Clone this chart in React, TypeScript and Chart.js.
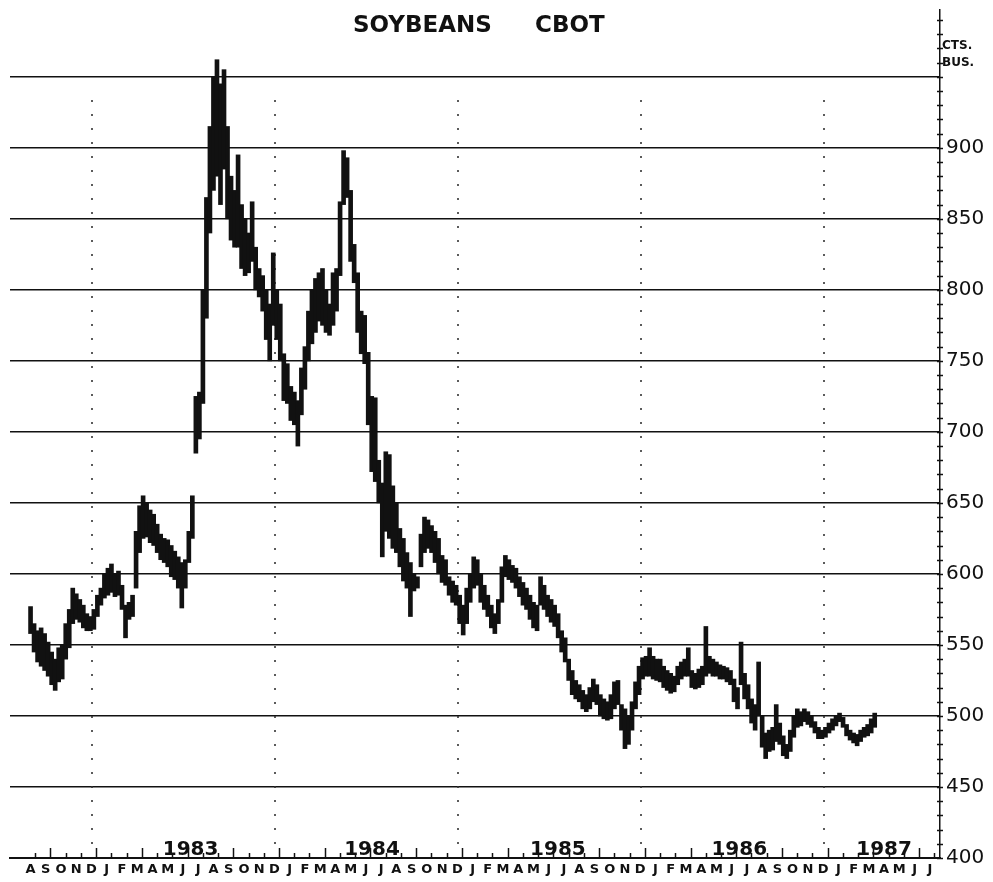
import React, { useEffect, useRef } from "react";
import { Chart, registerables } from "chart.js";

Chart.register(...registerables);

// Month letters, starting with August 1982
const MONTH_LETTERS = ["A", "S", "O", "N", "D", "J", "F", "M", "A", "M", "J", "J"];
const MONTH_COUNT = 60; // Aug 1982 .. Jul 1987
const YEAR_LABELS = ["1983", "1984", "1985", "1986", "1987"];
const YEAR_LABEL_MONTHS = [10.5, 22.4, 34.6, 46.5, 56];
const YEAR_DIVIDER_MONTHS = [4, 16, 28, 40, 52];
const PRICE_TICKS = [400, 450, 500, 550, 600, 650, 700, 750, 800, 850, 900, 950];
const WEEK_IN_MONTHS = 12 / 52;

// Weekly high / low, cents per bushel, from the first week of Aug 1982
const HIGHS = [
  577, 565, 560, 562, 558, 552, 545, 540, 548, 550,
  565, 575, 590, 586, 582, 578, 572, 570, 575, 585,
  590, 600, 604, 607, 600, 602, 592, 578, 580, 585,
  630, 648, 655, 650, 645, 642, 635, 628, 625, 624,
  620, 616, 612, 608, 610, 630, 655, 725, 728, 800,
  865, 915, 950, 962, 945, 955, 915, 880, 870, 895,
  860, 850, 840, 862, 830, 815, 810, 800, 790, 826,
  800, 790, 755, 748, 732, 728, 722, 745, 760, 785,
  800, 808, 812, 815, 800, 790, 812, 815, 862, 898,
  893, 870, 832, 812, 785, 782, 756, 725, 724, 680,
  664, 686, 684, 662, 650, 632, 625, 615, 608, 600,
  598, 628, 640, 638, 634, 630, 625, 613, 610, 598,
  595, 592, 585, 578, 590, 600, 612, 610, 600, 592,
  585, 578, 572, 582, 605, 613, 610, 606, 604, 598,
  594, 590, 585, 580, 578, 598, 592, 585, 582, 578,
  572, 560, 555, 540, 532, 525, 522, 518, 515, 520,
  526, 522, 515, 512, 510, 515, 524, 525, 508, 505,
  500, 510, 524, 535, 541, 542, 548, 542, 540, 540,
  535, 532, 530, 528, 535, 538, 540, 548, 532, 530,
  533, 535, 563, 542, 540, 538, 536, 535, 534, 532,
  526, 520, 552, 530, 522, 512, 508, 538, 500, 488,
  490, 492, 508, 495, 486, 480, 490, 500, 505, 503,
  505, 503, 500, 496, 492, 490, 492, 495, 498, 500,
  502, 499, 494, 490, 488, 487, 490, 492, 494, 498, 502,
];

const LOWS = [
  558, 545, 538, 535, 532, 528, 522, 518, 524, 526,
  540, 548, 565, 568, 566, 562, 560, 560, 561, 570,
  578, 583, 585, 587, 584, 585, 575, 555, 568, 570,
  590, 615, 625, 626, 622, 620, 615, 610, 608, 605,
  598, 596, 590, 576, 590, 608, 625, 685, 695, 720,
  780, 840, 870, 880, 860, 885, 850, 835, 830, 830,
  815, 810, 812, 820, 800, 795, 785, 765, 750, 775,
  765, 750, 722, 720, 708, 705, 690, 712, 730, 750,
  762, 770, 778, 775, 770, 768, 775, 785, 810, 860,
  865, 820, 805, 770, 755, 748, 705, 672, 665, 650,
  612, 630, 625, 618, 615, 605, 595, 590, 570, 588,
  590, 605, 615, 618, 615, 608, 600, 594, 592, 585,
  580, 578, 565, 557, 565, 580, 590, 592, 580, 575,
  570, 562, 558, 565, 580, 598, 596, 594, 590, 584,
  578, 575, 568, 562, 560, 578, 575, 570, 566, 563,
  555, 545, 538, 525, 515, 512, 510, 505, 503, 505,
  510, 508, 500, 498, 497, 498, 505, 508, 490, 477,
  480, 490, 505, 515, 526, 528, 528, 526, 525, 524,
  520, 518, 516, 517, 522, 526, 528, 528, 520, 519,
  520, 522, 528, 530, 528, 528, 526, 526, 524, 522,
  510, 505, 522, 512, 505, 495, 490, 500, 478, 470,
  475, 476, 482, 480, 472, 470, 475, 485, 492, 493,
  496, 494, 492, 488, 484, 484, 485, 488, 490, 493,
  496, 492, 486, 483, 481, 479, 482, 485, 486, 488, 492,
];

const INK = "#111";

const decorPlugin = {
  id: "decor",
  beforeDatasetsDraw(chart: any) {
    const ctx = chart.ctx;
    const xs = chart.scales.x;
    const area = chart.chartArea;
    ctx.save();
    ctx.strokeStyle = "#333";
    ctx.lineWidth = 1.6;
    ctx.setLineDash([2, 12]);
    YEAR_DIVIDER_MONTHS.forEach((m) => {
      const px = Math.round(xs.getPixelForValue(m + 0.05));
      ctx.beginPath();
      ctx.moveTo(px, area.top + 90);
      ctx.lineTo(px, area.bottom - 8);
      ctx.stroke();
    });
    ctx.restore();
  },
  afterDraw(chart: any) {
    const ctx = chart.ctx;
    const xs = chart.scales.x;
    const ys = chart.scales.y;
    const area = chart.chartArea;
    ctx.save();
    ctx.strokeStyle = INK;
    ctx.fillStyle = INK;
    // month tick marks on the time axis (pointing up)
    ctx.lineWidth = 1.5;
    for (let m = 0; m < MONTH_COUNT; m++) {
      const px = Math.round(xs.getPixelForValue(m + 0.3)) + 0.5;
      const len = m % 3 === 1 ? 10 : 5;
      ctx.beginPath();
      ctx.moveTo(px, area.bottom);
      ctx.lineTo(px, area.bottom - len);
      ctx.stroke();
    }
    // minor ticks on price axis every 10 cents
    for (let v = 400; v <= 990; v += 10) {
      const py = Math.round(ys.getPixelForValue(v)) + 0.5;
      ctx.beginPath();
      ctx.moveTo(area.right - 3, py);
      ctx.lineTo(area.right + 3, py);
      ctx.stroke();
    }
    // year labels
    ctx.font = 'bold 20px "DejaVu Sans"';
    ctx.textAlign = "center";
    ctx.textBaseline = "alphabetic";
    YEAR_LABELS.forEach((lab, i) => {
      ctx.fillText(lab, xs.getPixelForValue(YEAR_LABEL_MONTHS[i]), area.bottom - 3);
    });
    // title
    ctx.font = 'bold 23px "DejaVu Sans"';
    ctx.textAlign = "left";
    ctx.fillText("SOYBEANS", 353, 32);
    ctx.fillText("CBOT", 535, 32);
    // unit label
    ctx.font = 'bold 12px "DejaVu Sans"';
    ctx.fillText("CTS.", area.right + 2, 49);
    ctx.fillText("BUS.", area.right + 2, 66);
    ctx.restore();
  },
};

export default function App() {
  const canvasRef = useRef<HTMLCanvasElement | null>(null);

  useEffect(() => {
    const canvas = canvasRef.current;
    if (!canvas) return;
    const points = HIGHS.map((h, i) => ({ x: i * WEEK_IN_MONTHS, y: [LOWS[i], h] }));
    const chart = new Chart(canvas, {
      type: "bar",
      data: {
        datasets: [
          {
            data: points as any,
            backgroundColor: INK,
            borderWidth: 0,
            barThickness: 4,
          },
        ],
      },
      options: {
        animation: false,
        responsive: false,
        maintainAspectRatio: false,
        devicePixelRatio: 1,
        layout: { padding: { top: 10, left: 10, right: 0, bottom: 0 } },
        plugins: {
          legend: { display: false },
          title: { display: false },
          tooltip: { enabled: false },
        },
        scales: {
          x: {
            type: "linear",
            min: -0.84,
            max: 59.16,
            afterBuildTicks: (s: any) => {
              s.ticks = Array.from({ length: MONTH_COUNT }, (_, i) => ({ value: i }));
            },
            afterFit: (s: any) => {
              s.height = 24;
              s.paddingLeft = 0;
              s.paddingRight = 0;
            },
            grid: { display: false, drawTicks: false },
            border: { display: true, color: INK, width: 2 },
            ticks: {
              autoSkip: false,
              maxRotation: 0,
              padding: 4,
              color: INK,
              font: { family: "DejaVu Sans", size: 13, weight: "bold" },
              callback: (v: any) => MONTH_LETTERS[((Number(v) % 12) + 12) % 12],
            },
          },
          y: {
            position: "right",
            min: 400,
            max: 997,
            afterBuildTicks: (s: any) => {
              s.ticks = PRICE_TICKS.map((v) => ({ value: v }));
            },
            afterFit: (s: any) => {
              s.width = 53;
              s.paddingTop = 0;
              s.paddingBottom = 0;
            },
            grid: { color: INK, lineWidth: 1.6, drawTicks: false },
            border: { display: true, color: INK, width: 1.5 },
            ticks: {
              padding: 6,
              color: INK,
              font: { family: "DejaVu Sans", size: 20 },
              callback: (v: any) => (Number(v) === 950 ? "" : String(v)),
            },
          },
        },
      } as any,
      plugins: [decorPlugin],
    });
    return () => chart.destroy();
  }, []);

  return (
    <div style={{ position: "absolute", left: 0, top: 0, width: 993, height: 882, background: "#fff" }}>
      <canvas ref={canvasRef} width={993} height={882} style={{ display: "block" }} />
    </div>
  );
}
